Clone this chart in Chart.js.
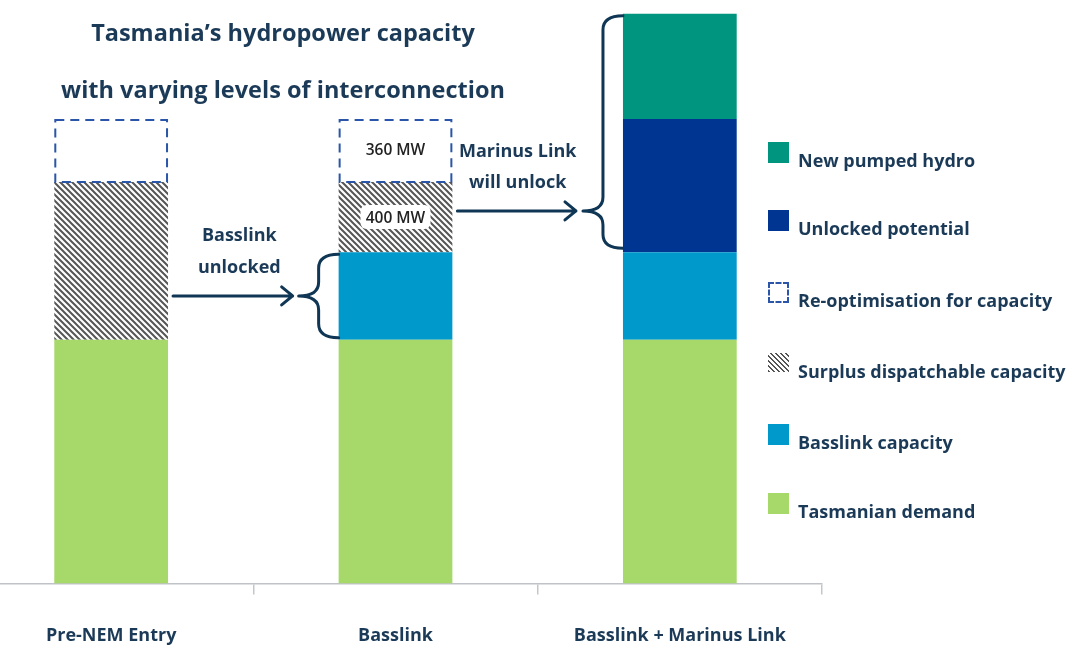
<!DOCTYPE html>
<html><head><meta charset="utf-8">
<script src="https://cdn.jsdelivr.net/npm/chart.js@4.4.1/dist/chart.umd.min.js"></script>
<style>
html,body{margin:0;padding:0;background:#fff;overflow:hidden;width:1074px;height:646px;}
#wrap{position:relative;width:1074px;height:646px;overflow:hidden;}
#c{position:absolute;left:-44px;top:0;}
.t{position:absolute;font-family:"Open Sans",Lato,sans-serif;font-weight:700;color:#1b3a57;white-space:nowrap;line-height:1;}
.title{font-size:23.5px;transform:translate(-50%,-50%);}
.lg{position:absolute;left:768px;width:21px;height:21px;}
.lt{position:absolute;left:798px;font-size:18px;transform:translateY(-50%);}
</style></head>
<body><div id="wrap">
<canvas id="c" width="1118" height="678"></canvas>
<div class="t title" style="left:283px;top:33px">Tasmania’s hydropower capacity</div>
<div class="t title" style="left:283px;top:90px">with varying levels of interconnection</div>
<div id="legend"></div>
</div>
<script>
const categories = ['Pre-NEM Entry', 'Basslink', 'Basslink + Marinus Link'];
const tasmanianDemand = [1390, 1390, 1390];
const basslinkCapacity = [0, 500, 500];
const surplusCapacity = [900, 400, 0];
const reoptimisation = [360, 360, 0];
const unlockedPotential = [0, 0, 760];
const newPumpedHydro = [0, 0, 600];
const seriesNames = ['Tasmanian demand','Basslink capacity','Surplus dispatchable capacity','Re-optimisation for capacity','Unlocked potential','New pumped hydro'];

const NAVY = '#0f3654';
const TXT = '#1b3a57';
const FONT = '"Open Sans", Lato, sans-serif';

function hatch(){
  const c=document.createElement('canvas'); c.width=6; c.height=6;
  const g=c.getContext('2d'); g.fillStyle='#fff'; g.fillRect(0,0,6,6);
  g.strokeStyle='#565656'; g.lineWidth=2; g.beginPath();
  for(const n of [-6,0,6]){ g.moveTo(n-1,-1); g.lineTo(n+7,7); }
  g.stroke();
  return g.createPattern(c,'repeat');
}
const hatchPat = hatch();

const colors = ['#a6d86a','#0099cc',hatchPat,'rgba(0,0,0,0)','#003591','#00957e'];
const values = [tasmanianDemand,basslinkCapacity,surplusCapacity,reoptimisation,unlockedPotential,newPumpedHydro];

const legendEl=document.getElementById('legend');
const swTops=[493,424,353,282,210,142];
seriesNames.forEach((n,i)=>{
  const sw=document.createElement('div'); sw.className='lg'; sw.style.top=swTops[i]+'px';
  if(i===2){ sw.style.background='repeating-linear-gradient(45deg,#555 0 1.6px,#fff 1.6px 3.6px)'; sw.style.height='19px';}
  else if(i===3){ sw.style.border='2px dashed #2a55a8'; sw.style.width='17px'; sw.style.height='17px'; sw.style.boxSizing='content-box';}
  else sw.style.background=colors[i];
  legendEl.appendChild(sw);
  const t=document.createElement('div'); t.className='t lt'; t.style.top=(swTops[i]+18)+'px'; t.textContent=n;
  legendEl.appendChild(t);
});

function brace(ctx,xl,xr,top,tip,bottom){
  const xm=(xl+xr)/2, r=Math.min(14,(tip-top)/2,(bottom-tip)/2);
  ctx.beginPath();
  ctx.moveTo(xr,top);
  ctx.quadraticCurveTo(xm,top,xm,top+r);
  ctx.lineTo(xm,tip-r);
  ctx.quadraticCurveTo(xm,tip,xl,tip);
  ctx.quadraticCurveTo(xm,tip,xm,tip+r);
  ctx.lineTo(xm,bottom-r);
  ctx.quadraticCurveTo(xm,bottom,xr,bottom);
  ctx.stroke();
}
function arrow(ctx,x1,x2,y){
  ctx.beginPath(); ctx.moveTo(x1,y); ctx.lineTo(x2,y);
  ctx.moveTo(x2-11,y-9); ctx.lineTo(x2,y); ctx.lineTo(x2-11,y+9); ctx.stroke();
}

const annot={
  id:'annot',
  afterDatasetsDraw(chart){
    const ctx=chart.ctx;
    const m=i=>chart.getDatasetMeta(i).data;
    ctx.save();
    ctx.strokeStyle='#2a55a8'; ctx.lineWidth=2; ctx.setLineDash([9,6]);
    m(3).forEach((el,k)=>{
      if(reoptimisation[k]>0){
        const x=el.x-el.width/2; ctx.strokeRect(x+1,el.y+1,el.width-2,el.base-el.y-1);
      }
    });
    ctx.setLineDash([]);
    const r2=m(3)[1], s2=m(2)[1];
    ctx.font='600 15.5px '+FONT; ctx.textAlign='center'; ctx.textBaseline='middle';
    ctx.fillStyle='#222';
    ctx.fillText(reoptimisation[1]+' MW', r2.x, (r2.y+r2.base)/2);
    const sy=(s2.y+s2.base)/2;
    ctx.fillStyle='#fff';
    ctx.beginPath(); ctx.roundRect(s2.x-35, sy-12, 70, 24, 6); ctx.fill();
    ctx.fillStyle='#222';
    ctx.fillText(surplusCapacity[1]+' MW', s2.x, sy+1);
    ctx.strokeStyle=NAVY; ctx.lineWidth=3; ctx.lineCap='round'; ctx.lineJoin='round';
    const b1=m(0)[0], bl=m(1)[1];
    const left2=bl.x-bl.width/2;
    const y1=(bl.y+bl.base)/2;
    brace(ctx,left2-40,left2,bl.y+2,y1,bl.base-2);
    arrow(ctx,b1.x+b1.width/2+5,left2-46,y1);
    ctx.fillStyle=TXT; ctx.font='bold 18px '+FONT;
    const cx1=(b1.x+b1.width/2+left2-40)/2+6;
    ctx.fillText('Basslink',cx1,y1-60); ctx.fillText('unlocked',cx1,y1-28);
    const p3=m(5)[2], u3=m(4)[2];
    const left3=p3.x-p3.width/2;
    const top3=p3.y+2, bot3=u3.base-4;
    const tip3=bot3-(bot3-top3)*0.16;
    brace(ctx,left3-40,left3,top3,tip3,bot3);
    arrow(ctx,s2.x+s2.width/2+5,left3-47,tip3);
    const cx2=(s2.x+s2.width/2+left3-40)/2;
    ctx.fillText('Marinus Link',cx2,tip3-59); ctx.fillText('will unlock',cx2,tip3-28);
    ctx.restore();
  }
};

new Chart(document.getElementById('c'),{
  type:'bar',
  data:{labels:categories,datasets:values.map((v,i)=>({label:seriesNames[i],data:v,backgroundColor:colors[i],borderWidth:0,categoryPercentage:1,barPercentage:0.4}))},
  options:{
    responsive:false,animation:false,
    layout:{padding:{left:13,right:252,top:5,bottom:0}},
    plugins:{legend:{display:false},tooltip:{enabled:false},title:{display:false}},
    scales:{
      x:{stacked:true,grid:{drawOnChartArea:false,drawTicks:true,tickLength:11,color:'#c3c7cb',lineWidth:1.5},
         border:{display:true,color:'#bfc3c7',width:1.5},
         ticks:{color:TXT,padding:31,font:{family:FONT,size:18,weight:'bold'}}},
      y:{stacked:true,display:false,min:0,max:3300}
    }
  },
  plugins:[annot]
});
</script>
</body></html>
